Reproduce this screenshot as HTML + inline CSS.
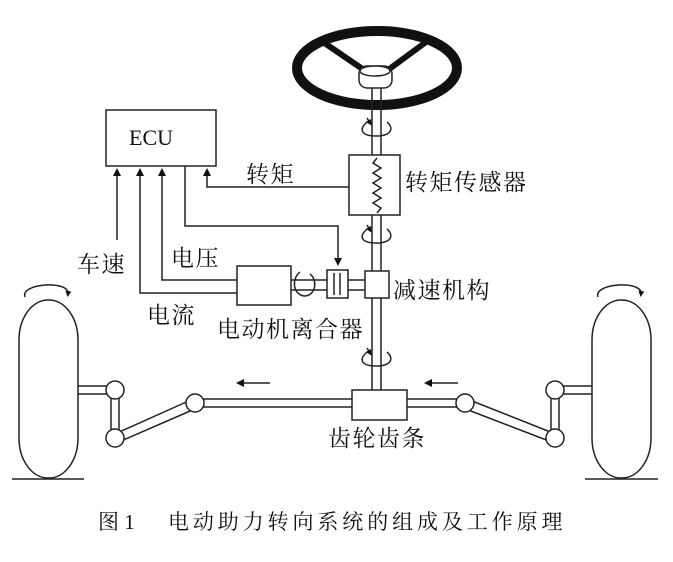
<!DOCTYPE html>
<html><head><meta charset="utf-8"><style>
html,body{margin:0;padding:0;background:#fff;}
svg{display:block;}
text{font-family:"Liberation Serif","Noto Serif CJK SC",serif;fill:#111;}
.l{font-size:23px;letter-spacing:1.5px;}
</style></head><body>
<svg width="673" height="562" viewBox="0 0 673 562" xmlns="http://www.w3.org/2000/svg">
<defs>
<marker id="ah" markerWidth="8" markerHeight="8" refX="4" refY="4" orient="auto" markerUnits="userSpaceOnUse">
<path d="M0,0 L8,4 L0,8 Z" fill="#111"/></marker>
<marker id="sh" markerWidth="6" markerHeight="6" refX="3" refY="3" orient="auto" markerUnits="userSpaceOnUse">
<path d="M0,0 L6,3 L0,6 Z" fill="#111"/></marker>
</defs>
<g stroke="#222" fill="none" stroke-width="1.5">
<ellipse cx="377" cy="68" rx="80" ry="37" stroke="#111" stroke-width="10"/>
<line x1="323" y1="42" x2="364" y2="70" stroke="#111" stroke-width="6"/>
<line x1="426" y1="42" x2="388" y2="70" stroke="#111" stroke-width="6"/>
<line x1="372" y1="88" x2="372" y2="392"/>
<line x1="381" y1="88" x2="381" y2="392"/>
<rect x="359" y="66" width="33" height="22" rx="8" fill="#fff"/>
<ellipse cx="375" cy="71" rx="15" ry="5" fill="#fff"/>
<path d="M367,122 C358,130 362,136 376,136 C392,136 394,128 387,122" />
<path d="M367,118 l3,5" marker-end="url(#sh)"/>
<path d="M367,229 C358,237 362,243 376,243 C392,243 394,235 387,229" />
<path d="M367,225 l3,5" marker-end="url(#sh)"/>
<path d="M367,352 C358,360 362,366 376,366 C392,366 394,358 387,352" />
<path d="M367,348 l3,5" marker-end="url(#sh)"/>
<rect x="349" y="155" width="51" height="60" fill="#fff"/>
<polyline points="377,158 373,163 381,168 373,173 381,178 373,183 381,188 373,193 381,198 373,203 381,208 377,213"/>
<rect x="106" y="110" width="110" height="56"/>
<line x1="117" y1="240" x2="117" y2="172" marker-end="url(#ah)"/>
<polyline points="237,293 140,293 140,172" marker-end="url(#ah)"/>
<polyline points="237,280 162,280 162,172" marker-end="url(#ah)"/>
<polyline points="349,187 207,187 207,172" marker-end="url(#ah)"/>
<polyline points="185,166 185,226 338,226 338,262" marker-end="url(#ah)"/>
<line x1="291" y1="280" x2="365" y2="280"/>
<line x1="291" y1="290" x2="365" y2="290"/>
<rect x="237" y="266" width="54" height="39" fill="#fff"/>
<rect x="327" y="270" width="21" height="28" fill="#fff"/>
<line x1="334" y1="273" x2="334" y2="295"/><line x1="340" y1="273" x2="340" y2="295"/>
<rect x="365" y="271" width="24" height="27" fill="#fff"/>
<path d="M300,272 C292,278 292,294 304,296 C316,296 318,280 310,274" />
<rect x="19" y="300" width="59" height="178" rx="29" ry="40" fill="#fff"/>
<line x1="12" y1="479" x2="84" y2="479"/>
<rect x="592" y="300" width="59" height="178" rx="29" ry="40" fill="#fff"/>
<line x1="585" y1="479" x2="658" y2="479"/>
<path d="M25,297 C20,283 70,280 68,294" marker-end="url(#sh)"/>
<path d="M598,297 C593,283 643,280 641,294" marker-end="url(#sh)"/>
<line x1="195" y1="399" x2="465" y2="399"/>
<line x1="195" y1="407" x2="465" y2="407"/>
<rect x="352" y="390" width="55" height="30" fill="#fff"/>
<line x1="78" y1="386" x2="112" y2="386"/><line x1="78" y1="394" x2="112" y2="394"/>
<line x1="111" y1="392" x2="111" y2="434"/><line x1="119" y1="392" x2="119" y2="434"/>
<line x1="117" y1="433" x2="193" y2="399"/><line x1="121" y1="441" x2="197" y2="408"/>
<circle cx="115" cy="390" r="9" fill="#fff"/>
<circle cx="115" cy="438" r="9" fill="#fff"/>
<circle cx="195" cy="403" r="9" fill="#fff"/>
<line x1="560" y1="386" x2="592" y2="386"/><line x1="560" y1="394" x2="592" y2="394"/>
<line x1="551" y1="392" x2="551" y2="434"/><line x1="559" y1="392" x2="559" y2="434"/>
<line x1="553" y1="433" x2="467" y2="399"/><line x1="549" y1="441" x2="463" y2="408"/>
<circle cx="555" cy="390" r="9" fill="#fff"/>
<circle cx="555" cy="438" r="9" fill="#fff"/>
<circle cx="465" cy="403" r="9" fill="#fff"/>
<line x1="270" y1="383" x2="240" y2="383" marker-end="url(#ah)"/>
<line x1="458" y1="383" x2="428" y2="383" marker-end="url(#ah)"/>
</g>
<text x="129" y="145" font-size="22">ECU</text>
<text class="l" x="246" y="182">转矩</text>
<text class="l" x="405" y="190">转矩传感器</text>
<text class="l" x="77" y="272">车速</text>
<text class="l" x="171" y="266">电压</text>
<text class="l" x="147" y="323">电流</text>
<text class="l" x="217" y="337">电动机离合器</text>
<text class="l" x="393" y="298">减速机构</text>
<text class="l" x="328" y="446">齿轮齿条</text>
<text x="98" y="529" font-size="21">图 1</text>
<text x="168" y="529" font-size="21" letter-spacing="3.9">电动助力转向系统的组成及工作原理</text>
</svg>
</body></html>
